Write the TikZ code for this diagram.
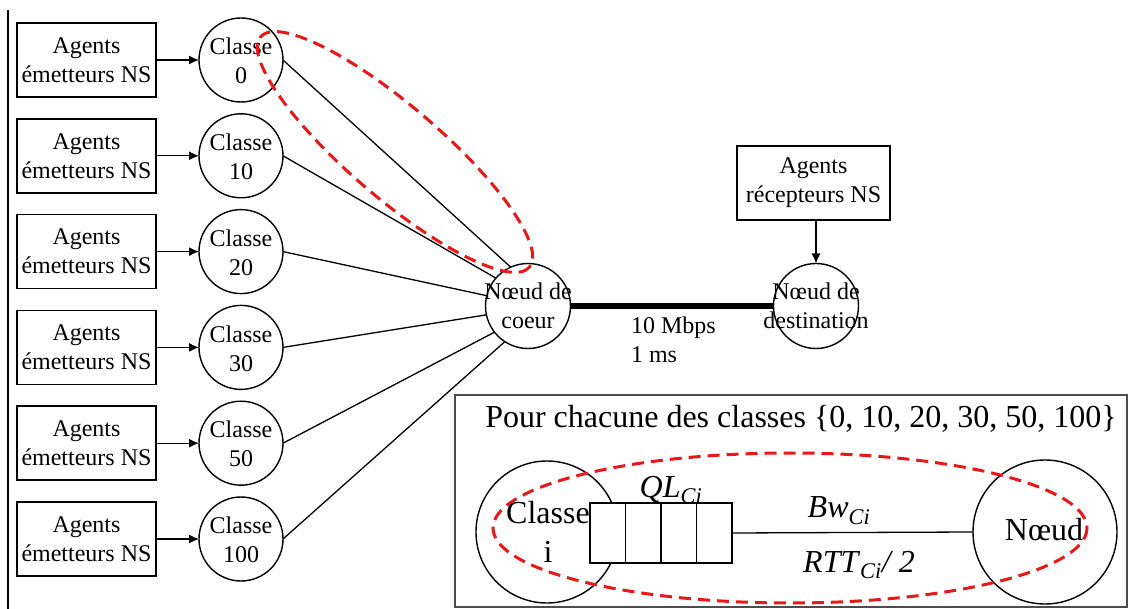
\documentclass[tikz,border=0pt]{standalone}
\usepackage{fontspec}
\setmainfont{Liberation Serif}
\usetikzlibrary{arrows.meta,calc}
\definecolor{dashred}{RGB}{232,24,24}
\begin{document}
\begin{tikzpicture}[x=1pt,y=-1pt,
  every node/.style={inner sep=0pt, outer sep=0pt},
  sm/.style={font=\fontsize{24}{29}\selectfont, align=center},
  lg/.style={font=\fontsize{32}{39}\selectfont, align=center},
  agentbox/.style={draw, line width=1.6pt, minimum width=139pt, minimum height=74pt, sm},
  cls/.style={draw, circle, line width=1.4pt, minimum size=84pt},
  link/.style={line width=1.3pt},
  arr/.style={line width=1.3pt, -{Latex[length=10pt,width=9pt]}},
  redell/.style={draw=dashred, line width=3pt, dash pattern=on 12pt off 7pt},
]
\useasboundingbox (0,0) rectangle (1133,609);

% left vertical rule
\coordinate (lt) at (8,10);
\coordinate (lb) at (8,609);
\draw[line width=2pt] (lt) -- (lb);

% sender agents and classes
\foreach \k/\lab in {0/0,1/10,2/20,3/30,4/50,5/100}{
  \pgfmathsetmacro\yy{60+95.8*\k}
  \node[agentbox] (a\k) at (86.5,\yy) {Agents\\émetteurs NS};
  \node[cls] (c\k) at (241,\yy) {};
  \node[sm] (c\k t) at (241,\yy+1) {Classe\\\lab};
  \draw[arr] (a\k) -- (c\k);
}

% core and destination
\node[cls, minimum size=85pt] (core) at (528,306) {};
\node[sm] (coret) at (528,306) {Nœud de\\coeur};
\node[cls, minimum size=85pt] (dest) at (816,306) {};
\node[sm] (destt) at (816,306) {Nœud de\\destination};
\node[agentbox, minimum width=153pt] (recv) at (813.5,183) {Agents\\récepteurs NS};
\draw[arr] (recv.south -| dest.north) -- (dest.north);

\foreach \k/\ang in {0/114,1/139,2/166,3/192,4/218,5/237}{
  \draw[link] (c\k.east) -- (core.\ang);
}
\draw[line width=6.5pt] (core.east) -- (dest.west);
\node[sm, align=left, anchor=west] (bwl) at (631,340) {10 Mbps\\1 ms};

% top dashed ellipse
\draw[redell, rotate around={-40.6:(395,152)}] (395,152) ellipse [x radius=177, y radius=46];

% inset
\node[draw=black!70, line width=1.3pt, minimum width=672pt, minimum height=212pt] (inset) at (791,501) {};
\node[lg, anchor=base] (title) at (801,428) {Pour chacune des classes \{0, 10, 20, 30, 50, 100\}};
\node[cls, minimum size=142pt] (ci) at (547,532) {};
\node[cls, minimum size=144pt] (nd) at (1045,532) {};
\draw[redell] (790,528) ellipse [x radius=297, y radius=75];
\node[draw, line width=1.4pt, minimum width=142pt, minimum height=60pt, fill=white] (q) at (661,533) {};
\foreach \f in {0.25,0.5,0.75}{
  \draw[link] ($(q.north west)!\f!(q.north east)$) -- ($(q.south west)!\f!(q.south east)$);
}
\draw[link] (q.east) -- (nd.west);
\node[lg] (cit) at (548,532) {Classe\\i};
\node[lg] (ndt) at (1044,530) {Nœud};
\node[lg, anchor=base] (ql) at (671,497) {\textit{QL}\textsubscript{\textit{Ci}}};
\node[lg, anchor=base] (bw) at (839,518) {\textit{Bw}\textsubscript{\textit{Ci}}};
\node[lg, anchor=base] (rtt) at (859,572) {\textit{RTT}\textsubscript{\textit{Ci}}\textit{/ 2}};
\end{tikzpicture}
\end{document}
